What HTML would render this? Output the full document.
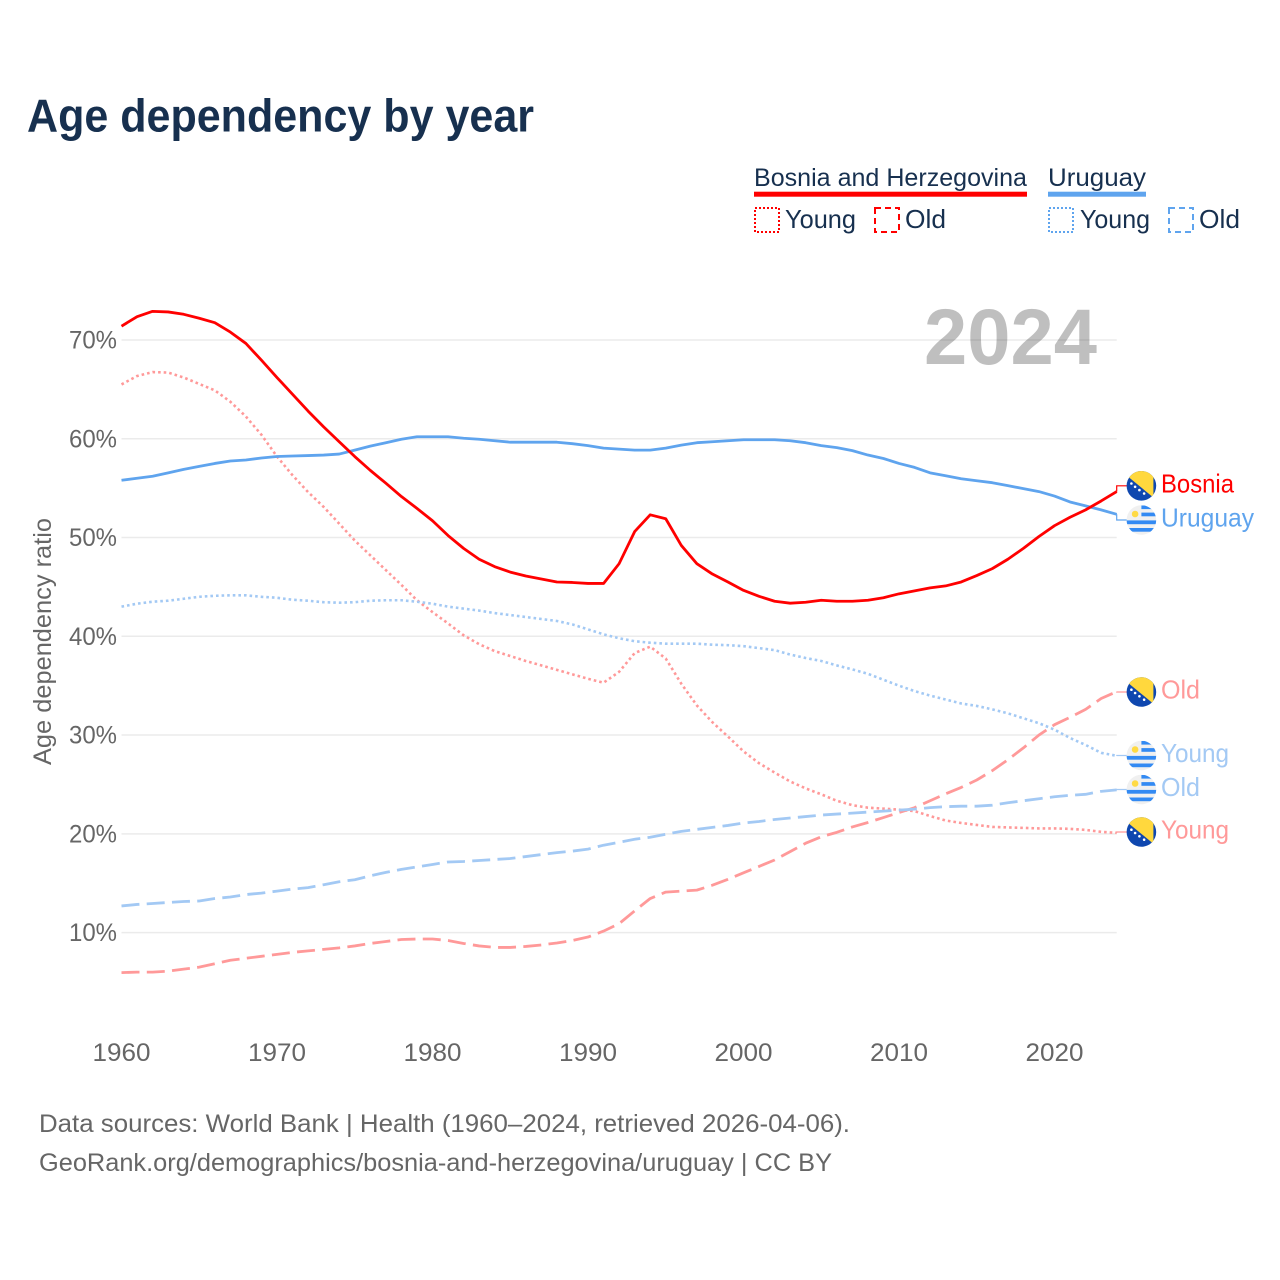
<!DOCTYPE html>
<html lang="en">
<head>
<meta charset="utf-8">
<title>Age dependency by year</title>
<style>
html,body{margin:0;padding:0;background:#fff;width:1280px;height:1280px;overflow:hidden}
svg{display:block}
text{font-family:"Liberation Sans",sans-serif}
</style>
</head>
<body>
<svg id="chart" xmlns="http://www.w3.org/2000/svg" width="1280" height="1280" viewBox="0 0 1280 1280">
  <defs>
    <clipPath id="flag-clip"><circle cx="0" cy="0" r="14.8"/></clipPath>
    <g id="flag-ba" clip-path="url(#flag-clip)">
      <rect x="-16" y="-16" width="32" height="32" fill="#0f47af"/>
      <polygon points="-16,-11.3 12,11.7 12,-16 -16,-16" fill="#ffd83d"/>
      <circle cx="-10" cy="-2.3" r="1.3" fill="#fff"/>
      <circle cx="-6.3" cy="1" r="1.3" fill="#fff"/>
      <circle cx="-2" cy="4.3" r="1.3" fill="#fff"/>
      <circle cx="2.7" cy="7.7" r="1.3" fill="#fff"/>
    </g>
    <g id="flag-uy" clip-path="url(#flag-clip)">
      <rect x="-16" y="-16" width="32" height="32" fill="#f0f0f0"/>
      <rect x="0" y="-14.5" width="16" height="3.6" fill="#338af3"/>
      <rect x="0" y="-7.4" width="16" height="3.7" fill="#338af3"/>
      <rect x="-16" y="0.4" width="32" height="3.8" fill="#338af3"/>
      <rect x="-16" y="8" width="32" height="3.7" fill="#338af3"/>
      <circle cx="-6.3" cy="-6" r="3.3" fill="#ffda44"/>
    </g>
  </defs>

  <text x="27" y="131.5" font-size="46" font-weight="700" fill="#17304f" textLength="507" lengthAdjust="spacingAndGlyphs">Age dependency by year</text>

  <g>
    <text x="754" y="186" font-size="25" fill="#17304f" textLength="273" lengthAdjust="spacingAndGlyphs">Bosnia and Herzegovina</text>
    <rect x="754" y="191.7" width="273" height="5" fill="#ff0000"/>
    <text x="1048" y="186" font-size="25" fill="#17304f" textLength="98" lengthAdjust="spacingAndGlyphs">Uruguay</text>
    <rect x="1048" y="191.7" width="98" height="5" fill="#5fa4ee"/>

    <rect x="755" y="208" width="24" height="24" fill="none" stroke="#ff0000" stroke-width="2" stroke-dasharray="2 2"/>
    <text x="785" y="228" font-size="26" fill="#17304f" textLength="71" lengthAdjust="spacingAndGlyphs">Young</text>
    <rect x="875" y="208" width="24" height="24" fill="none" stroke="#ff0000" stroke-width="2" stroke-dasharray="6 4"/>
    <text x="905" y="228" font-size="26" fill="#17304f" textLength="41" lengthAdjust="spacingAndGlyphs">Old</text>
    <rect x="1049" y="208" width="24" height="24" fill="none" stroke="#5fa4ee" stroke-width="2" stroke-dasharray="2 2"/>
    <text x="1080" y="228" font-size="26" fill="#17304f" textLength="70" lengthAdjust="spacingAndGlyphs">Young</text>
    <rect x="1169" y="208" width="24" height="24" fill="none" stroke="#5fa4ee" stroke-width="2" stroke-dasharray="6 4"/>
    <text x="1199" y="228" font-size="26" fill="#17304f" textLength="41" lengthAdjust="spacingAndGlyphs">Old</text>
  </g>

  <g id="grid"></g>
  <g id="y-ticks"></g>
  <g id="x-ticks"></g>

  <text transform="translate(51,641.5) rotate(-90)" text-anchor="middle" font-size="25" fill="#666666" textLength="247" lengthAdjust="spacingAndGlyphs">Age dependency ratio</text>

  <text x="924" y="364" font-size="79" font-weight="700" fill="#000000" fill-opacity="0.25" textLength="173" lengthAdjust="spacingAndGlyphs">2024</text>

  <g id="series"></g>
  <g id="end-labels"></g>

  <text x="39" y="1132" font-size="25" fill="#666666" textLength="811" lengthAdjust="spacingAndGlyphs">Data sources: World Bank | Health (1960–2024, retrieved 2026-04-06).</text>
  <text x="39" y="1171" font-size="25" fill="#666666" textLength="793" lengthAdjust="spacingAndGlyphs">GeoRank.org/demographics/bosnia-and-herzegovina/uruguay | CC BY</text>
</svg>

<script>
const years = [1960,1961,1962,1963,1964,1965,1966,1967,1968,1969,1970,1971,1972,1973,1974,1975,1976,1977,1978,1979,1980,1981,1982,1983,1984,1985,1986,1987,1988,1989,1990,1991,1992,1993,1994,1995,1996,1997,1998,1999,2000,2001,2002,2003,2004,2005,2006,2007,2008,2009,2010,2011,2012,2013,2014,2015,2016,2017,2018,2019,2020,2021,2022,2023,2024];
const yTickValues = [10,20,30,40,50,60,70];
const xTickValues = [1960,1970,1980,1990,2000,2010,2020];

const bosniaTotal = [71.4,72.36,72.9,72.84,72.6,72.2,71.75,70.8,69.65,67.95,66.2,64.5,62.8,61.2,59.7,58.2,56.8,55.5,54.15,52.95,51.7,50.2,48.9,47.8,47.05,46.5,46.1,45.8,45.5,45.45,45.35,45.35,47.35,50.6,52.3,51.9,49.2,47.35,46.3,45.5,44.65,44.05,43.55,43.35,43.45,43.65,43.55,43.55,43.65,43.9,44.3,44.6,44.9,45.1,45.5,46.15,46.85,47.8,48.9,50.1,51.2,52.05,52.8,53.7,54.65];
const uruguayTotal = [55.8,56.0,56.2,56.55,56.9,57.2,57.5,57.75,57.85,58.05,58.2,58.25,58.3,58.35,58.45,58.85,59.25,59.6,59.95,60.2,60.2,60.2,60.05,59.95,59.8,59.65,59.65,59.65,59.65,59.5,59.3,59.05,58.95,58.85,58.85,59.05,59.35,59.6,59.7,59.8,59.9,59.9,59.9,59.8,59.6,59.3,59.1,58.8,58.35,58,57.5,57.1,56.55,56.25,55.95,55.75,55.55,55.25,54.95,54.65,54.2,53.6,53.2,52.8,52.35];
const bosniaYoung = [65.5,66.35,66.75,66.7,66.2,65.55,64.9,63.75,62.25,60.4,58.2,56.3,54.6,53.1,51.4,49.7,48.2,46.7,45.2,43.65,42.45,41.3,40.1,39.2,38.5,38,37.5,37.05,36.6,36.15,35.7,35.3,36.4,38.3,38.95,37.75,35.2,33,31.3,29.85,28.35,27.15,26.2,25.3,24.6,24,23.35,22.9,22.65,22.55,22.45,22.3,21.8,21.35,21.1,20.9,20.7,20.65,20.6,20.55,20.55,20.5,20.4,20.2,20.1];
const uruguayYoung = [43,43.3,43.5,43.6,43.8,44,44.1,44.15,44.15,44,43.9,43.7,43.6,43.45,43.4,43.45,43.6,43.65,43.65,43.5,43.3,43,42.8,42.6,42.35,42.15,41.95,41.75,41.55,41.2,40.7,40.2,39.8,39.5,39.35,39.25,39.25,39.25,39.15,39.1,39,38.8,38.6,38.15,37.8,37.5,37.05,36.65,36.2,35.6,35,34.45,34,33.6,33.2,32.95,32.6,32.2,31.7,31.2,30.55,29.7,29,28.2,27.9];
const bosniaOld = [5.95,6,6,6.1,6.3,6.5,6.85,7.2,7.4,7.6,7.8,8,8.15,8.3,8.45,8.65,8.9,9.1,9.3,9.35,9.35,9.2,8.9,8.65,8.5,8.5,8.6,8.75,8.95,9.2,9.55,10.15,10.9,12.2,13.45,14.1,14.2,14.3,14.8,15.4,16.05,16.7,17.35,18.2,19.05,19.7,20.15,20.7,21.15,21.65,22.15,22.65,23.35,24.05,24.7,25.45,26.4,27.5,28.7,30,31.05,31.8,32.6,33.7,34.4];
const uruguayOld = [12.7,12.85,12.95,13.05,13.15,13.2,13.45,13.6,13.85,14,14.2,14.4,14.55,14.85,15.15,15.35,15.75,16.1,16.4,16.65,16.9,17.15,17.2,17.3,17.4,17.5,17.7,17.9,18.1,18.25,18.45,18.85,19.15,19.45,19.65,19.95,20.25,20.45,20.65,20.85,21.1,21.25,21.45,21.6,21.75,21.9,22,22.1,22.2,22.3,22.4,22.5,22.65,22.75,22.8,22.8,22.9,23.15,23.35,23.55,23.75,23.9,24,24.3,24.45];

const NS = 'http://www.w3.org/2000/svg';
const xScale = (yr) => 121.5 + (yr - 1960) * 15.55;
const yScale = (v) => 932.6 - (v - 10) * 9.877;
const pctLabel = (v) => v + '%';

function make(tag, parent, attrs, content) {
  const el = document.createElementNS(NS, tag);
  for (const k in attrs) el.setAttribute(k, attrs[k]);
  if (content !== undefined) el.textContent = content;
  parent.appendChild(el);
  return el;
}

const gridG = document.getElementById('grid');
const yTickG = document.getElementById('y-ticks');
const xTickG = document.getElementById('x-ticks');
const seriesG = document.getElementById('series');
const labelG = document.getElementById('end-labels');

yTickValues.forEach((v) => {
  const line = make('line', gridG, {x1: xScale(1960), x2: xScale(2024), y1: yScale(v), y2: yScale(v), stroke: '#ebebeb', 'stroke-width': 1.5});
  
  
  const t = make('text', yTickG, {x: 117, y: yScale(v) + 8.5, 'text-anchor': 'end', 'font-size': 25, fill: '#666666', textLength: 48, lengthAdjust: 'spacingAndGlyphs'}, pctLabel(v));
  
  
});

xTickValues.forEach((yr) => {
  const t = make('text', xTickG, {x: xScale(yr), y: 1061, 'text-anchor': 'middle', 'font-size': 25, fill: '#666666', textLength: 58, lengthAdjust: 'spacingAndGlyphs'}, String(yr));
  
  
});

function linePath(values) {
  return values.map((v, i) => (i ? 'L' : 'M') + xScale(years[i]).toFixed(2) + ' ' + yScale(v).toFixed(2)).join(' ');
}

function drawSeries(values, color, width, dash, name) {
  const p = make('path', seriesG, {d: linePath(values), fill: 'none', stroke: color, 'stroke-width': width, 'stroke-linejoin': 'round'});
  if (dash) p.setAttribute('stroke-dasharray', dash);
  
  
}

const DOTTED = '2.6 3';
const DASHED = '18 7.3';
drawSeries(bosniaYoung, '#ff9999', 2.6, DOTTED, 'line-bosnia-young');
drawSeries(uruguayYoung, '#a3c9f4', 2.6, DOTTED, 'line-uruguay-young');
drawSeries(bosniaOld, '#ff9999', 2.8, DASHED, 'line-bosnia-old');
drawSeries(uruguayOld, '#a3c9f4', 2.8, DASHED, 'line-uruguay-old');
drawSeries(uruguayTotal, '#5fa4ee', 2.8, null, 'line-uruguay-total');
drawSeries(bosniaTotal, '#ff0000', 2.8, null, 'line-bosnia-total');

function drawEndLabel(values, labelY, flag, text, color, textWidth, name) {
  const endY = yScale(values[values.length - 1]);
  const endX = xScale(years[years.length - 1]);
  const c = make('path', labelG, {d: 'M' + endX + ' ' + endY.toFixed(2) + ' V' + labelY + ' H1127', fill: 'none', stroke: color, 'stroke-width': 1.2});
  
  
  const f = make('use', labelG, {href: '#' + flag, transform: 'translate(1141.4,' + labelY + ')'});
  
  
  const t = make('text', labelG, {x: 1161, y: labelY + 6.5, 'font-size': 26, fill: color, textLength: textWidth, lengthAdjust: 'spacingAndGlyphs'}, text);
  
  
}

drawEndLabel(bosniaTotal, 485.8, 'flag-ba', 'Bosnia', '#ff0000', 73, 'bosnia-total');
drawEndLabel(uruguayTotal, 520, 'flag-uy', 'Uruguay', '#5fa4ee', 93, 'uruguay-total');
drawEndLabel(bosniaOld, 692, 'flag-ba', 'Old', '#ff9999', 39, 'bosnia-old');
drawEndLabel(uruguayYoung, 755.5, 'flag-uy', 'Young', '#a3c9f4', 68, 'uruguay-young');
drawEndLabel(uruguayOld, 789.5, 'flag-uy', 'Old', '#a3c9f4', 39, 'uruguay-old');
drawEndLabel(bosniaYoung, 832, 'flag-ba', 'Young', '#ff9999', 68, 'bosnia-young');
</script>
</body>
</html>
